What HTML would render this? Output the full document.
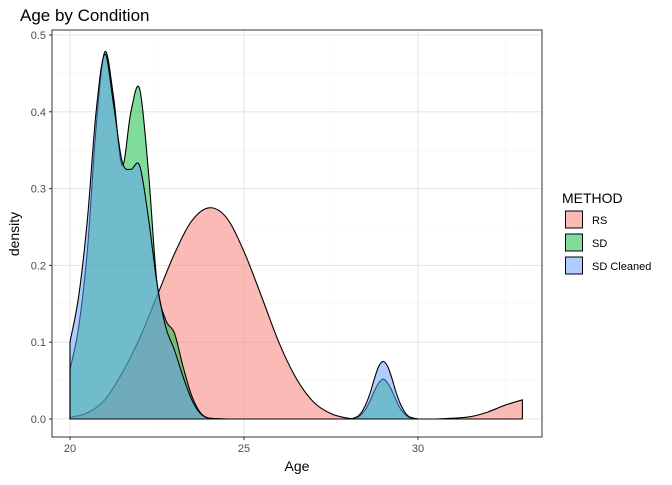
<!DOCTYPE html>
<html><head><meta charset="utf-8"><style>
body{margin:0;background:#fff;font-family:"Liberation Sans",sans-serif}
svg text{font-family:"Liberation Sans",sans-serif}
</style></head><body>
<svg id="chart" width="672" height="480">
<text x="20" y="21" font-size="17" fill="#000">Age by Condition</text>
<text transform="translate(19,234) rotate(-90)" text-anchor="middle" font-size="14">density</text>
<text x="297" y="471" text-anchor="middle" font-size="14">Age</text>
<g id="grid"></g><g id="marks"></g><g id="axes"></g>
<rect x="52" y="30" width="490" height="407" fill="none" stroke="#333" stroke-width="1"/>
<g>
<text x="562" y="203" font-size="14">METHOD</text>
<g id="legend"></g>
</g>
</svg>
<script>
const xTicks=[20,25,30];
const yTicks=[0,0.1,0.2,0.3,0.4,0.5];
const yTickLabels=["0.0","0.1","0.2","0.3","0.4","0.5"];
const seriesNames=["RS","SD","SD Cleaned"];
const rsX=[20,20.5,21,21.5,22,22.5,23,23.5,24,24.5,25,25.5,26,26.5,27,27.5,28,28.5,29,29.5,30,30.5,31,31.5,32,32.5,33];
const rsY=[0.002,0.008,0.025,0.06,0.105,0.16,0.215,0.258,0.275,0.262,0.218,0.16,0.1,0.053,0.022,0.007,0.001,0,0,0,0,0,0.001,0.003,0.009,0.018,0.025];
const sdX=[20,20.25,20.5,20.75,21,21.25,21.5,21.75,22,22.25,22.5,22.75,23,23.25,23.5,23.75,24,24.5,25,26,27,28,28.25,28.375,28.5,28.625,28.75,28.875,29,29.125,29.25,29.375,29.5,29.625,29.75,30];
const sdY=[0.064,0.12,0.22,0.38,0.478,0.42,0.33,0.40,0.43,0.324,0.177,0.129,0.112,0.068,0.03,0.008,0.001,0,0,0,0,0,0.002,0.006,0.013,0.024,0.037,0.047,0.052,0.047,0.037,0.024,0.013,0.006,0.002,0];
const sdcX=[20,20.25,20.5,20.75,21,21.25,21.5,21.75,22,22.25,22.5,22.75,23,23.25,23.5,23.75,24,24.5,25,26,27,28,28.25,28.375,28.5,28.625,28.75,28.875,29,29.125,29.25,29.375,29.5,29.625,29.75,30];
const sdcY=[0.1,0.16,0.26,0.40,0.475,0.41,0.335,0.325,0.33,0.263,0.177,0.12,0.09,0.055,0.025,0.007,0.001,0,0,0,0,0,0.003,0.0086,0.019,0.034,0.053,0.0688,0.075,0.0688,0.053,0.034,0.019,0.0086,0.003,0];
const colors=["#F8766D","#00BA38","#619CFF"];
const X=v=>70+(v-20)*34.8;
const Y=v=>419-v*768;
const NS="http://www.w3.org/2000/svg";
function mk(tag,attrs,parent){const e=document.createElementNS(NS,tag);for(const k in attrs)e.setAttribute(k,attrs[k]);parent.appendChild(e);return e;}
const grid=document.getElementById('grid'),axes=document.getElementById('axes'),marks=document.getElementById('marks');
[22.5,27.5,32.5].forEach(v=>{const l=mk('line',{x1:X(v),x2:X(v),y1:30,y2:437,stroke:'#f3f3f3','stroke-width':0.6},grid);

});
[0.05,0.15,0.25,0.35,0.45].forEach(v=>{const l=mk('line',{x1:52,x2:542,y1:Y(v),y2:Y(v),stroke:'#f3f3f3','stroke-width':0.6},grid);

});
xTicks.forEach(v=>{const l=mk('line',{x1:X(v),x2:X(v),y1:30,y2:437,stroke:'#e6e6e6','stroke-width':1.1},grid);


const t=mk('line',{x1:X(v),x2:X(v),y1:437,y2:440,stroke:'#333'},axes);


const tx=mk('text',{x:X(v),y:452,'text-anchor':'middle','font-size':11,fill:'#4d4d4d'},axes);tx.textContent=v;

});
yTicks.forEach((v,i)=>{const l=mk('line',{x1:52,x2:542,y1:Y(v),y2:Y(v),stroke:'#e6e6e6','stroke-width':1.1},grid);


const t=mk('line',{x1:49,x2:52,y1:Y(v),y2:Y(v),stroke:'#333'},axes);


const tx=mk('text',{x:46,y:Y(v)+4,'text-anchor':'end','font-size':11,fill:'#4d4d4d'},axes);tx.textContent=yTickLabels[i];

});
function smooth(xs,ys){const p=xs.map((x,i)=>[X(x),Y(ys[i])]);let d=`M${p[0][0]},${Y(0)} L${p[0][0]},${p[0][1]}`;
for(let i=0;i<p.length-1;i++){const p0=p[Math.max(0,i-1)],p1=p[i],p2=p[i+1],p3=p[Math.min(p.length-1,i+2)];
const h=p2[0]-p1[0];
const m1=(p2[1]-p0[1])/(p2[0]-p0[0]||1),m2=(p3[1]-p1[1])/(p3[0]-p1[0]||1);
let c1y=p1[1]+m1*h/3,c2y=p2[1]-m2*h/3;c1y=Math.min(c1y,Y(0));c2y=Math.min(c2y,Y(0));
d+=` C${p1[0]+h/3},${c1y} ${p2[0]-h/3},${c2y} ${p2[0]},${p2[1]}`;}
d+=` L${p[p.length-1][0]},${Y(0)} Z`;return d;}
const data=[[rsX,rsY],[sdX,sdY],[sdcX,sdcY]];
const names=['density-rs','density-sd','density-sd-cleaned'];
data.forEach((s,i)=>{const el=mk('path',{d:smooth(s[0],s[1]),fill:colors[i],'fill-opacity':0.5,stroke:'#000','stroke-width':1.1,'stroke-linejoin':'round'},marks);

});
const lg=document.getElementById('legend');
seriesNames.forEach((n,i)=>{const y=211+i*23;
const r=mk('rect',{x:565.5,y:y,width:17,height:17,fill:colors[i],'fill-opacity':0.5,stroke:'#000','stroke-width':1},lg);


const t=mk('text',{x:592,y:y+13,'font-size':11},lg);t.textContent=n;

});
</script>
</body></html>
